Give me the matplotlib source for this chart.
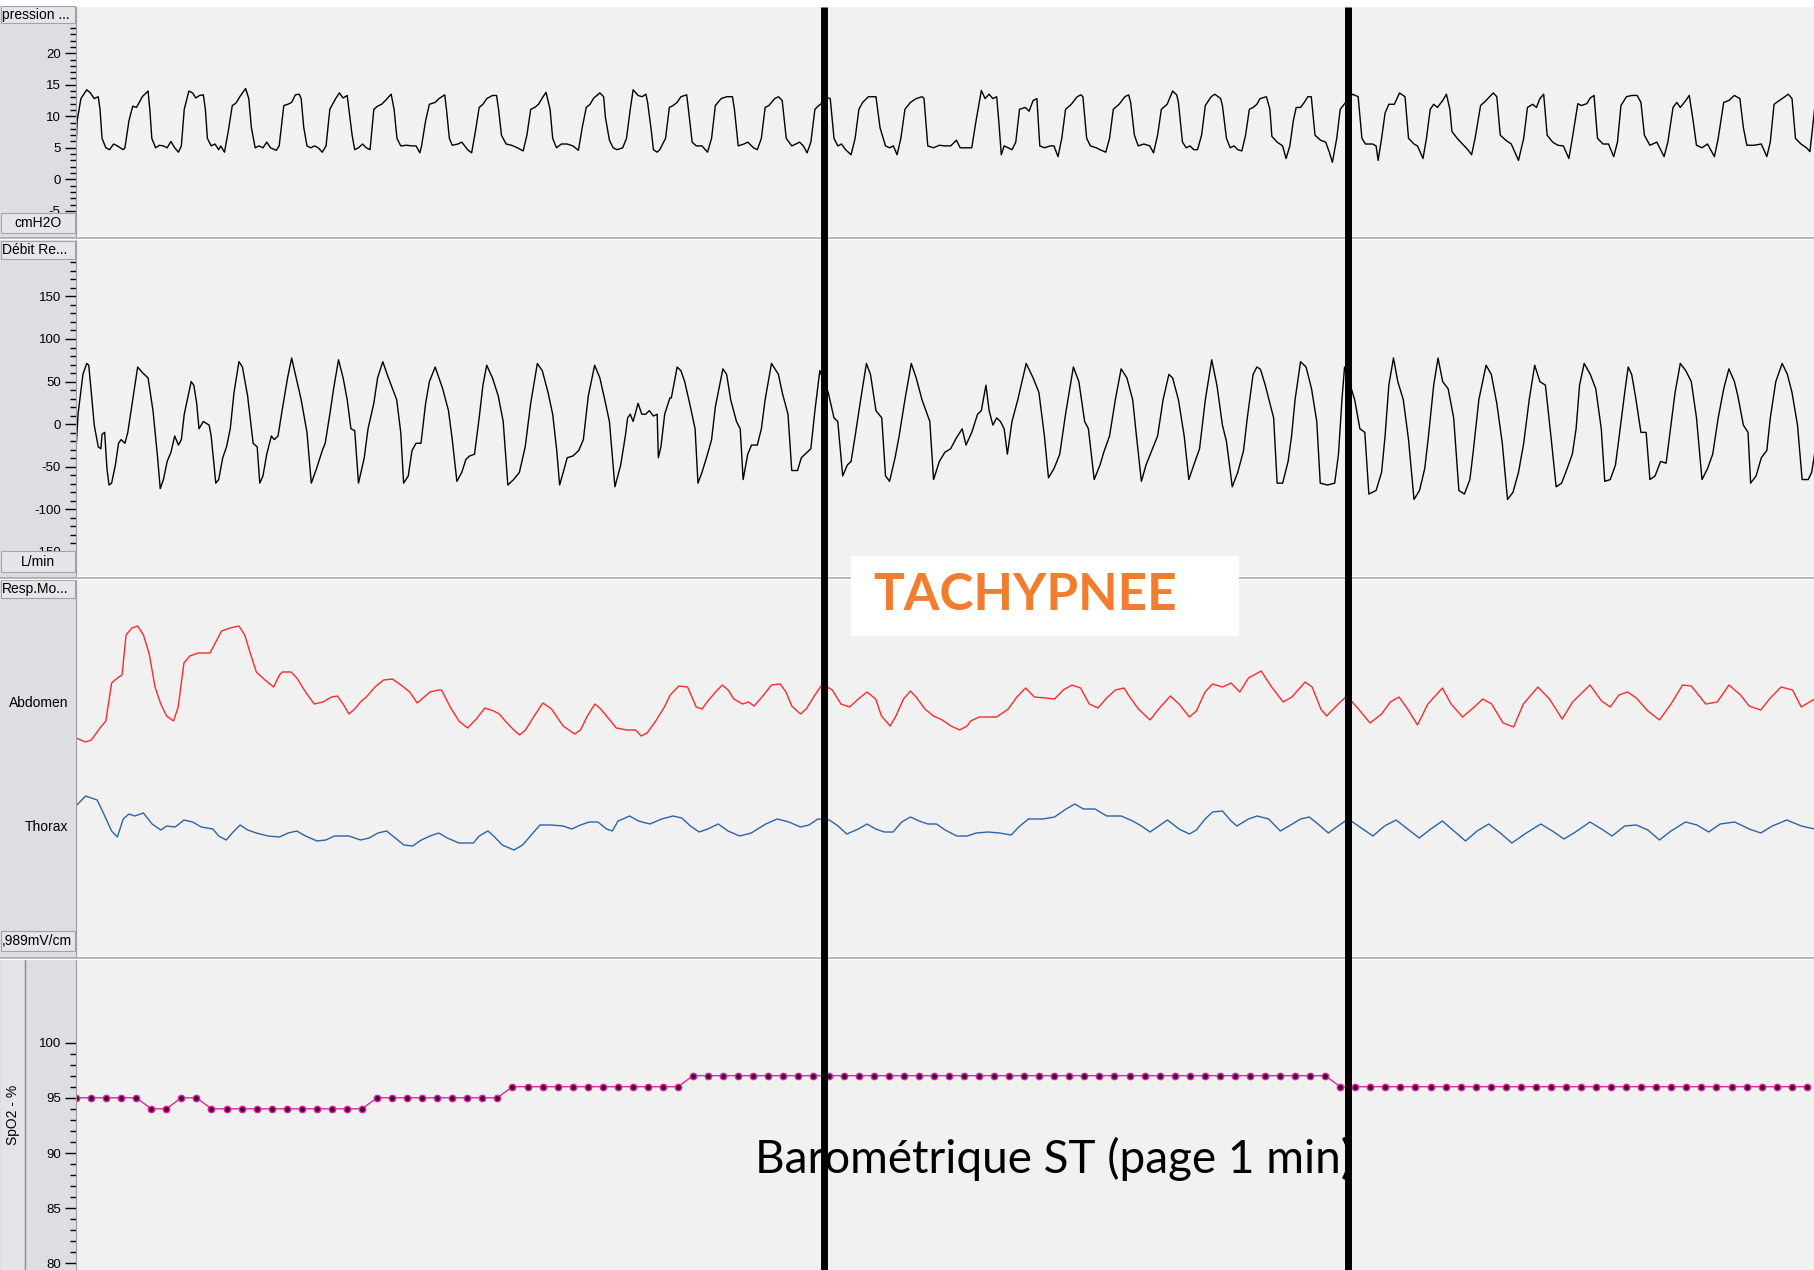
import numpy as np
import matplotlib.pyplot as plt
from matplotlib.patches import Rectangle
from matplotlib.lines import Line2D
from matplotlib.ticker import FixedLocator, MultipleLocator, NullLocator

plt.rcParams['axes.unicode_minus'] = False

W, H = 1814, 1270

# ---- data (time in s, one page = 60 s) ----
pressure_pts = [
    (0.0, 5.0), (0.04, 9.3), (0.17, 12.8), (0.37, 14.2), (0.50, 13.7), (0.63, 12.8), (0.77, 13.1), (0.83, 11.1),
    (0.90, 6.5), (1.03, 5.0), (1.16, 4.7), (1.30, 5.6), (1.43, 5.3), (1.63, 4.7), (1.69, 5.0), (1.83, 9.3),
    (1.96, 11.6), (2.09, 11.4), (2.29, 13.1), (2.49, 14.0), (2.55, 11.1), (2.62, 6.5), (2.75, 5.0), (2.88, 5.4),
    (3.02, 5.3), (3.15, 5.0), (3.28, 6.0), (3.41, 5.0), (3.54, 4.3), (3.64, 5.3), (3.74, 11.1), (3.90, 14.0),
    (4.03, 13.7), (4.14, 12.9), (4.27, 13.3), (4.40, 13.4), (4.47, 11.1), (4.54, 6.5), (4.67, 5.3), (4.80, 5.6),
    (4.93, 4.7), (5.00, 5.3), (5.13, 4.3), (5.26, 7.6), (5.40, 11.7), (5.53, 12.1), (5.66, 13.1), (5.86, 14.4),
    (5.97, 12.8), (6.06, 8.2), (6.19, 5.0), (6.32, 5.3), (6.46, 5.0), (6.59, 5.9), (6.72, 5.0), (6.92, 4.6),
    (7.02, 5.3), (7.18, 11.7), (7.32, 11.9), (7.45, 12.2), (7.58, 13.4), (7.71, 13.5), (7.78, 12.8), (7.87, 8.2),
    (7.98, 5.3), (8.11, 5.0), (8.24, 5.3), (8.37, 5.0), (8.51, 4.3), (8.64, 5.3), (8.77, 11.1), (8.97, 12.8),
    (9.10, 13.7), (9.23, 12.9), (9.37, 13.3), (9.43, 11.1), (9.54, 7.0), (9.63, 4.7), (9.76, 5.0), (9.90, 5.6),
    (10.03, 5.0), (10.16, 4.7), (10.29, 11.1), (10.42, 11.6), (10.56, 11.9), (10.69, 12.5), (10.89, 13.5),
    (10.99, 11.1), (11.09, 6.5), (11.22, 5.3), (11.42, 5.4), (11.61, 5.3), (11.75, 5.3), (11.88, 4.2), (11.94, 5.3),
    (12.08, 9.3), (12.21, 11.9), (12.41, 12.2), (12.54, 12.8), (12.74, 13.4), (12.80, 11.1), (12.90, 6.5),
    (13.00, 5.4), (13.20, 5.6), (13.33, 5.9), (13.53, 4.7), (13.67, 4.2), (13.80, 7.6), (13.93, 11.4), (14.06, 11.9),
    (14.19, 12.8), (14.39, 13.3), (14.53, 13.3), (14.60, 11.1), (14.70, 7.0), (14.86, 5.6), (15.05, 5.4),
    (15.25, 5.0), (15.45, 4.5), (15.58, 7.0), (15.71, 11.1), (15.85, 11.4), (15.98, 11.9), (16.11, 12.9),
    (16.24, 13.8), (16.38, 11.1), (16.47, 6.5), (16.60, 5.0), (16.77, 5.6), (16.97, 5.6), (17.17, 5.3), (17.36, 4.6),
    (17.49, 8.2), (17.63, 11.4), (17.76, 11.9), (17.89, 12.9), (18.10, 13.7), (18.23, 13.1), (18.29, 9.9),
    (18.43, 6.2), (18.56, 5.0), (18.69, 4.7), (18.89, 5.0), (19.02, 6.5), (19.15, 11.1), (19.25, 14.2), (19.42, 13.3),
    (19.56, 13.1), (19.69, 13.5), (19.75, 12.2), (19.88, 7.6), (19.95, 4.7), (20.08, 4.3),
    (20.17, 4.7), (20.37, 6.5), (20.50, 11.4), (20.63, 11.7), (20.77, 12.2), (20.90, 13.1), (21.10, 13.4),
    (21.16, 11.1), (21.29, 5.9), (21.43, 5.3), (21.63, 5.3), (21.82, 4.3), (21.96, 6.5), (22.09, 11.7), (22.29, 12.8),
    (22.48, 13.1), (22.68, 13.1), (22.75, 11.1), (22.88, 5.3), (23.08, 5.6), (23.21, 5.9), (23.41, 5.0), (23.54, 4.7),
    (23.68, 6.5), (23.81, 11.4), (23.94, 11.7), (24.14, 12.8), (24.27, 13.1), (24.40, 12.5), (24.54, 6.5),
    (24.73, 5.3), (24.87, 5.6), (25.00, 5.9), (25.13, 5.3), (25.26, 4.2), (25.39, 5.9), (25.53, 11.1), (25.66, 11.7),
    (25.73, 11.9), (25.86, 13.1), (26.06, 12.8), (26.19, 6.5), (26.32, 5.3), (26.45, 5.6), (26.59, 4.7), (26.78, 3.9),
    (26.92, 6.5), (27.05, 11.1), (27.18, 12.2), (27.38, 13.1), (27.58, 13.1), (27.64, 13.1), (27.78, 8.2),
    (27.97, 5.3), (28.11, 5.0), (28.24, 5.3), (28.37, 3.9), (28.50, 6.5), (28.64, 11.1), (28.83, 12.2), (29.03, 12.8),
    (29.23, 13.1), (29.30, 12.8), (29.43, 5.3), (29.63, 5.0), (29.83, 5.4), (30.02, 5.3), (30.22, 5.3), (30.42, 6.2),
    (30.55, 5.0), (30.75, 5.0), (30.95, 5.0), (31.08, 8.8), (31.28, 14.1), (31.41, 12.8), (31.55, 13.5),
    (31.68, 12.8), (31.81, 13.1), (31.88, 9.4), (31.97, 3.9), (32.07, 5.3), (32.21, 5.0), (32.34, 4.7), (32.47, 5.9),
    (32.60, 11.1), (32.80, 11.4), (32.93, 10.8), (33.07, 12.5), (33.20, 12.8), (33.30, 5.3), (33.46, 5.0),
    (33.66, 5.3), (33.79, 5.3), (33.93, 3.6), (34.06, 6.5), (34.19, 11.1), (34.39, 11.9), (34.59, 13.1),
    (34.72, 13.4), (34.79, 13.1), (34.92, 6.5), (35.05, 5.3), (35.25, 5.0), (35.38, 4.7), (35.58, 4.3), (35.71, 6.5),
    (35.84, 11.1), (36.04, 11.9), (36.24, 13.1), (36.37, 13.4), (36.44, 12.2), (36.57, 7.0), (36.70, 5.3),
    (36.90, 5.6), (37.10, 5.3), (37.23, 4.2), (37.37, 7.0), (37.50, 11.1), (37.70, 11.9), (37.89, 14.0),
    (38.03, 13.4), (38.09, 12.2), (38.23, 5.9), (38.36, 5.0), (38.49, 5.3), (38.62, 4.7), (38.75, 4.7), (38.89, 7.0),
    (39.02, 11.7), (39.22, 13.1), (39.35, 13.5), (39.55, 12.8), (39.61, 11.7), (39.75, 6.5), (39.88, 5.0),
    (40.01, 5.3), (40.14, 4.7), (40.28, 4.5), (40.41, 7.0), (40.54, 11.1), (40.67, 11.4), (40.80, 11.9),
    (40.91, 12.8),
    (41.13, 13.1), (41.25, 11.1), (41.32, 6.8), (41.50, 5.9), (41.69, 5.3), (41.81, 3.3), (41.94, 5.3),
    (42.06, 9.3), (42.16, 11.4), (42.31, 11.4), (42.44, 12.2), (42.56, 13.1), (42.68, 13.1), (42.81, 7.0),
    (43.00, 6.2), (43.18, 5.9), (43.31, 4.2), (43.41, 2.7), (43.56, 6.5), (43.68, 11.1), (43.87, 12.2),
    (44.11, 13.5), (44.30, 13.1), (44.43, 6.5), (44.55, 5.6), (44.80, 5.6), (44.92, 5.3), (44.99, 3.0),
    (45.11, 6.5), (45.23, 10.5), (45.36, 11.9), (45.55, 11.9), (45.73, 13.7), (45.92, 13.1), (46.04, 6.5),
    (46.23, 5.6), (46.35, 5.3), (46.54, 3.3), (46.66, 6.5), (46.79, 11.1), (46.91, 11.9), (47.04, 11.4),
    (47.22, 12.5), (47.35, 13.5), (47.47, 11.1), (47.54, 7.6), (47.72, 6.5), (47.97, 5.3), (48.09, 4.7),
    (48.22, 3.9), (48.34, 6.5), (48.53, 11.7), (48.72, 12.5), (48.84, 13.1), (48.97, 13.7), (49.09, 13.1),
    (49.21, 7.0), (49.40, 6.2), (49.59, 5.6), (49.84, 3.0), (50.02, 6.5), (50.15, 11.4), (50.33, 11.9),
    (50.46, 11.4), (50.58, 12.8), (50.71, 13.5), (50.83, 7.0), (51.02, 5.9), (51.20, 5.4), (51.39, 5.3),
    (51.58, 3.3), (51.70, 6.5), (51.89, 12.0), (52.01, 11.7), (52.20, 12.0), (52.32, 12.9), (52.45, 13.3),
    (52.57, 6.5), (52.76, 5.6), (52.95, 5.6), (53.13, 3.6), (53.26, 5.9), (53.38, 11.7), (53.57, 13.1),
    (53.75, 13.3), (53.94, 13.3), (54.07, 12.2), (54.19, 7.0), (54.38, 5.4), (54.62, 5.9), (54.87, 3.6),
    (55.00, 5.9), (55.18, 11.4), (55.31, 12.2), (55.43, 11.4), (55.62, 12.5), (55.74, 13.3), (55.87, 9.4),
    (55.99, 5.4), (56.18, 5.0), (56.37, 5.6), (56.61, 3.6), (56.74, 6.5), (56.93, 12.2), (57.11, 12.5),
    (57.30, 13.3), (57.49, 12.8), (57.61, 8.2), (57.73, 5.4), (57.98, 5.4), (58.23, 5.6), (58.42, 3.6),
    (58.54, 5.9), (58.67, 11.9), (58.85, 12.5), (58.98, 12.9), (59.16, 13.5), (59.29, 12.8), (59.41, 6.5),
    (59.60, 5.6), (59.79, 5.0), (59.91, 4.4), (60.07, 11.1),
]

flow_pts = [
    (0.0, -30.9), (0.07, 11.7), (0.24, 58.5), (0.37, 71.3), (0.44, 69.2), (0.54, 33.0), (0.63, -1.1),
    (0.77, -26.7), (0.86, -28.8), (0.90, -11.8), (0.99, -9.6), (1.07, -52.2), (1.14, -71.4), (1.23, -69.2),
    (1.36, -48.0), (1.47, -22.4), (1.56, -18.1), (1.69, -22.4), (1.79, -9.6), (1.96, 28.7), (2.13, 67.1),
    (2.29, 60.7), (2.49, 54.3), (2.66, 15.9), (2.82, -39.4), (2.91, -75.6), (3.02, -65.0), (3.15, -43.7),
    (3.28, -33.0), (3.41, -13.9), (3.54, -24.5), (3.64, -18.1), (3.74, 11.7), (3.98, 50.0), (4.07, 45.8),
    (4.17, 24.5), (4.25, -5.4), (4.40, 3.2), (4.60, -1.1), (4.67, -13.9), (4.83, -69.2), (4.93, -65.0),
    (5.07, -39.4), (5.20, -26.7), (5.33, -5.4), (5.46, 37.2), (5.63, 73.4), (5.75, 67.1), (5.93, 33.0),
    (6.12, -22.4), (6.26, -26.7), (6.35, -69.2), (6.46, -60.7), (6.59, -35.2), (6.75, -13.9), (6.85, -18.1),
    (6.98, -13.9), (7.12, 15.9), (7.31, 54.3), (7.45, 77.7), (7.58, 58.5), (7.78, 28.7), (7.98, -9.6),
    (8.13, -69.2), (8.31, -52.2), (8.51, -30.9), (8.61, -22.4), (8.77, 11.7), (8.90, 41.5), (9.07, 75.6),
    (9.23, 54.3), (9.37, 28.7), (9.50, -5.4), (9.63, -7.5), (9.76, -69.2), (9.96, -39.4), (10.09, -5.4),
    (10.29, 24.5), (10.42, 54.3), (10.60, 73.4), (10.75, 58.5), (10.89, 45.8), (11.08, 28.7), (11.22, -9.6),
    (11.32, -69.2), (11.48, -60.7), (11.61, -30.9), (11.75, -22.4), (11.92, -22.4), (12.08, 24.5), (12.21, 50.0),
    (12.41, 67.1), (12.67, 41.5), (12.87, 15.9), (13.00, -18.1), (13.16, -67.1), (13.33, -56.5), (13.47, -41.5),
    (13.60, -37.3), (13.77, -35.2), (13.93, 7.4), (14.06, 45.8), (14.19, 69.2), (14.39, 54.3), (14.59, 33.0),
    (14.76, 3.2), (14.92, -71.4), (15.12, -65.0), (15.32, -56.5), (15.52, -26.7), (15.71, 24.5), (15.94, 71.3),
    (16.11, 62.8), (16.31, 37.2), (16.47, 11.7), (16.61, -30.9), (16.71, -71.4), (16.87, -52.2), (16.97, -39.4),
    (17.17, -37.3), (17.37, -30.9), (17.53, -18.1), (17.70, 33.0), (17.92, 69.2), (18.10, 54.3), (18.27, 28.7),
    (18.43, 3.2), (18.62, -73.5), (18.82, -48.0), (18.98, -13.9), (19.06, 7.4), (19.15, 11.7), (19.25, 3.2),
    (19.42, 24.5), (19.55, 11.7), (19.68, 11.7), (19.81, 15.9), (19.95, 9.6), (20.08, 11.7), (20.12, -39.4),
    (20.21, -26.7), (20.34, 11.7), (20.52, 30.9),
    (20.57, 30.9), (20.77, 67.1), (20.90, 62.8), (21.03, 50.0), (21.23, 20.2), (21.39, -5.4), (21.49, -69.2),
    (21.63, -56.5), (21.82, -35.2), (21.96, -18.1), (22.09, 20.2), (22.35, 64.9), (22.48, 58.5), (22.62, 28.7),
    (22.82, 3.2), (22.95, -5.4), (23.05, -65.0), (23.21, -35.2), (23.34, -24.5), (23.54, -24.5), (23.68, -5.4),
    (23.81, 28.7), (24.03, 71.3), (24.27, 58.5), (24.40, 37.2), (24.60, 11.7), (24.73, -54.4), (24.93, -54.4),
    (25.06, -39.4), (25.26, -33.0), (25.39, -28.8), (25.53, 15.9), (25.70, 62.8), (25.99, 37.2), (26.19, 7.4),
    (26.32, 3.2), (26.49, -60.7), (26.65, -48.0), (26.78, -43.7), (26.92, -13.9), (27.11, 28.7), (27.31, 71.3),
    (27.45, 58.5), (27.64, 15.9), (27.84, 7.4), (27.97, -60.7), (28.11, -67.1), (28.30, -39.4), (28.44, -13.9),
    (28.64, 28.7), (28.86, 71.3), (29.03, 54.3), (29.23, 28.7), (29.50, 3.2), (29.63, -65.0), (29.83, -43.7),
    (30.02, -33.0), (30.22, -28.8), (30.42, -16.0), (30.62, -5.4), (30.75, -24.5), (30.95, -9.6), (31.15, 11.7),
    (31.28, 15.9), (31.44, 45.8), (31.55, 15.9), (31.68, -1.1), (31.81, 7.4), (31.94, 3.2), (32.07, -5.4),
    (32.18, -35.2), (32.34, 3.2), (32.54, 28.7), (32.83, 71.3), (33.07, 54.3), (33.27, 37.2), (33.46, -13.9),
    (33.60, -62.9), (33.79, -52.2), (33.99, -35.2), (34.19, 11.7), (34.46, 67.1), (34.65, 50.0), (34.85, 3.2),
    (34.98, -5.4), (35.18, -65.0), (35.38, -48.0), (35.51, -33.0), (35.71, -13.9), (35.91, 28.7), (36.11, 64.9),
    (36.31, 54.3), (36.51, 28.7), (36.64, -13.9), (36.81, -67.1), (36.97, -48.0), (37.17, -30.9), (37.37, -13.9),
    (37.56, 28.7), (37.76, 58.5), (37.89, 54.3), (38.09, 28.7), (38.29, -13.9), (38.45, -65.0), (38.62, -48.0),
    (38.82, -28.8), (39.02, 28.7), (39.24, 75.6), (39.42, 45.8), (39.61, -1.1), (39.75, -20.3), (39.95, -73.5),
    (40.14, -56.5), (40.34, -30.9), (40.47, 7.4), (40.67, 58.5), (40.80, 67.1), (40.91, 64.9),
    (40.94, 62.8), (41.09, 45.8), (41.25, 24.5), (41.38, 7.4), (41.50, -69.2), (41.69, -69.2), (41.88, -43.7),
    (42.00, -13.9), (42.12, 28.7), (42.31, 73.4), (42.50, 67.1), (42.69, 41.5), (42.87, 3.2), (42.99, -69.2),
    (43.24, -71.4), (43.49, -69.2), (43.62, -35.2), (43.74, 28.7), (43.83, 67.1), (43.99, 50.0), (44.18, 28.7),
    (44.36, -5.4), (44.53, -9.6), (44.67, -82.0), (44.92, -77.8), (45.11, -56.5), (45.23, -13.9), (45.36, 45.8),
    (45.52, 77.7), (45.67, 50.0), (45.86, 28.7), (46.04, -18.1), (46.23, -88.4), (46.42, -77.8), (46.60, -52.2),
    (46.73, -13.9), (46.91, 45.8), (47.06, 77.7), (47.22, 50.0), (47.41, 41.5), (47.60, 7.4), (47.78, -77.8),
    (47.97, -82.0), (48.16, -65.0), (48.28, -30.9), (48.47, 28.7), (48.72, 69.2), (48.90, 58.5), (49.09, 24.5),
    (49.28, -22.4), (49.46, -88.4), (49.65, -79.9), (49.84, -56.5), (50.02, -22.4), (50.21, 28.7), (50.40, 69.2),
    (50.58, 50.0), (50.77, 45.8), (50.96, -13.9), (51.14, -73.5), (51.33, -69.2), (51.52, -52.2), (51.70, -35.2),
    (51.83, -5.4), (51.95, 45.8), (52.11, 71.3), (52.32, 58.5), (52.51, 41.5), (52.70, -5.4), (52.82, -67.1),
    (53.01, -65.0), (53.19, -48.0), (53.32, -13.9), (53.51, 37.2), (53.63, 67.1), (53.75, 58.5), (53.88, 33.0),
    (54.07, -9.6), (54.25, -9.6), (54.38, -65.0), (54.56, -60.7), (54.75, -43.7), (54.94, -45.8), (55.06, -13.9),
    (55.25, 37.2), (55.43, 71.3), (55.62, 62.8), (55.81, 50.0), (55.99, 7.4), (56.18, -65.0), (56.37, -52.2),
    (56.55, -35.2), (56.74, 7.4), (56.93, 41.5), (57.11, 64.9), (57.30, 50.0), (57.42, 33.0), (57.61, -1.1),
    (57.77, -9.6), (57.86, -69.2), (58.05, -60.7), (58.23, -39.4), (58.42, -30.9), (58.54, 7.4), (58.73, 50.0),
    (58.95, 71.3), (59.13, 58.5), (59.29, 37.2), (59.48, -1.1), (59.64, -65.0), (59.85, -65.0), (59.97, -56.5),
    (60.07, -35.2),
]

# belts, arbitrary units (1 unit ~ 1 mm of trace)
abdomen_pts = [
    (0.0, -3.6), (0.33, -4.0), (0.53, -3.8), (0.83, -2.6), (1.03, -1.9), (1.23, 1.9), (1.43, 2.4), (1.59, 2.7),
    (1.73, 6.7), (1.93, 7.4), (2.13, 7.6), (2.33, 6.7), (2.53, 4.8), (2.73, 1.5), (2.93, -0.2), (3.13, -1.4),
    (3.37, -1.9), (3.53, -0.5), (3.73, 3.9), (3.93, 4.6), (4.23, 4.9), (4.63, 4.9), (4.83, 6.0), (5.03, 7.1),
    (5.33, 7.4), (5.63, 7.6), (5.83, 6.7), (6.03, 4.8), (6.23, 3.0), (6.53, 2.2), (6.83, 1.5), (7.03, 2.7),
    (7.13, 3.0), (7.43, 3.0), (7.63, 2.4), (7.93, 1.0), (8.23, -0.2), (8.53, 0.0), (8.83, 0.5), (9.03, 0.6),
    (9.23, -0.2), (9.43, -1.2), (9.63, -0.7), (9.83, 0.0), (10.03, 0.5), (10.33, 1.5), (10.63, 2.2), (10.93, 2.3),
    (11.23, 1.7), (11.53, 1.0), (11.79, -0.1), (12.03, 0.5), (12.23, 1.0), (12.53, 1.2), (12.63, 1.2),
    (12.93, -0.5), (13.23, -1.9), (13.53, -2.6), (13.83, -1.7), (14.13, -0.6), (14.43, -0.9), (14.63, -1.2),
    (14.83, -1.9), (15.13, -2.8), (15.33, -3.3), (15.53, -2.8), (15.83, -1.4), (16.13, -0.1), (16.43, -0.7),
    (16.83, -2.4), (17.23, -3.2), (17.43, -2.8), (17.67, -1.4), (17.93, -0.2), (18.13, -0.7), (18.33, -1.4),
    (18.67, -2.6), (19.03, -2.8), (19.33, -2.8), (19.53, -3.4), (19.73, -3.1), (20.03, -1.9), (20.33, -0.5),
    (20.53, 0.7), (20.83, 1.6), (21.13, 1.5), (21.43, -0.5), (21.63, -0.7), (21.83, 0.1), (22.13, 1.1),
    (22.33, 1.7), (22.53, 1.2), (22.73, 0.3), (23.03, -0.2), (23.23, 0.0), (23.43, -0.4), (23.73, 0.6),
    (24.03, 1.7), (24.33, 1.8), (24.53, 1.0), (24.73, -0.4), (25.03, -1.2), (25.23, -0.7), (25.53, 0.7),
    (25.79, 1.8), (26.13, 1.2), (26.43, -0.2), (26.73, -0.5), (27.03, 0.3), (27.33, 1.0), (27.63, 0.3),
    (27.83, -1.4), (28.13, -2.4), (28.33, -1.4), (28.59, 0.3), (28.83, 1.1), (29.03, 0.5), (29.33, -0.7),
    (29.63, -1.4), (29.93, -1.8), (30.23, -2.4), (30.53, -2.8), (30.79, -2.4),
    (30.91, -1.9), (31.21, -1.5), (31.81, -1.5), (32.21, -0.7), (32.51, 0.5), (32.81, 1.4), (33.11, 0.5),
    (33.51, 0.4), (33.81, 0.3), (34.11, 1.2), (34.41, 1.7), (34.71, 1.4), (35.01, -0.2), (35.31, -0.6),
    (35.61, 0.4), (35.91, 1.2), (36.21, 1.4), (36.41, 0.5), (36.71, -0.7), (37.11, -1.8), (37.41, -0.7),
    (37.81, 0.6), (38.11, -0.2), (38.47, -1.5), (38.71, -0.9), (39.01, 1.0), (39.27, 1.8), (39.61, 1.5),
    (39.91, 1.9), (40.21, 1.0), (40.51, 2.4), (40.95, 3.1), (41.31, 1.5), (41.71, 0.0), (42.01, 0.5),
    (42.47, 2.0), (42.71, 1.5), (43.01, -0.7), (43.21, -1.4), (43.61, -0.2), (43.91, 0.6), (44.31, -0.7),
    (44.71, -2.1), (45.11, -1.2), (45.41, 0.0), (45.71, 0.5), (46.01, -0.7), (46.35, -2.3), (46.71, -0.2),
    (47.21, 1.4), (47.51, -0.2), (47.91, -1.5), (48.31, -0.5), (48.61, 0.3), (48.91, -0.2), (49.31, -2.1),
    (49.67, -2.5), (50.01, -0.2), (50.51, 1.5), (50.91, 0.3), (51.35, -1.7), (51.71, 0.0), (52.31, 1.7),
    (52.71, 0.1), (53.01, -0.5), (53.31, 0.7), (53.61, 1.0), (53.91, 0.4), (54.31, -0.9), (54.71, -1.8),
    (55.11, -0.2), (55.51, 1.7), (55.81, 1.6), (56.31, -0.2), (56.71, 0.0), (57.11, 1.7), (57.51, 0.7),
    (57.81, -0.4), (58.21, -0.8), (58.51, 0.3), (58.91, 1.5), (59.31, 1.2), (59.61, -0.5), (60.07, 0.3),
]

thorax_pts = [
    (0.0, 2.1), (0.33, 3.1), (0.73, 2.7), (0.93, 1.5), (1.23, -0.4), (1.43, -1.0), (1.63, 0.8), (1.83, 1.3),
    (2.03, 1.1), (2.33, 1.4), (2.63, 0.3), (2.93, -0.3), (3.13, 0.1), (3.43, 0.0), (3.73, 0.7), (4.03, 0.5),
    (4.33, 0.0), (4.73, -0.2), (4.93, -0.9), (5.19, -1.3), (5.43, -0.5), (5.67, 0.2), (5.93, -0.3), (6.23, -0.6),
    (6.63, -0.9), (7.03, -1.0), (7.33, -0.6), (7.63, -0.4), (7.93, -0.9), (8.33, -1.4), (8.63, -1.3),
    (8.93, -0.9), (9.43, -0.9), (9.83, -1.3), (10.13, -1.1), (10.43, -0.6), (10.73, -0.4), (11.03, -1.1),
    (11.33, -1.8), (11.63, -1.9), (11.93, -1.3), (12.23, -0.9), (12.53, -0.6), (12.83, -1.1), (13.23, -1.6),
    (13.73, -1.6), (13.93, -0.9), (14.23, -0.4), (14.43, -0.9), (14.73, -1.8), (15.13, -2.3), (15.43, -1.8),
    (15.73, -0.8), (16.03, 0.2), (16.43, 0.2), (16.83, 0.1), (17.13, -0.2), (17.43, 0.2), (17.73, 0.5),
    (18.03, 0.5), (18.33, -0.2), (18.53, -0.4), (18.73, 0.6), (19.13, 1.1), (19.43, 0.6), (19.83, 0.3),
    (20.23, 0.8), (20.63, 1.1), (20.93, 0.9), (21.23, 0.1), (21.53, -0.5), (21.83, -0.2), (22.19, 0.3),
    (22.53, -0.4), (22.93, -0.9), (23.33, -0.6), (23.83, 0.3), (24.23, 0.8), (24.63, 0.5), (25.03, 0.0),
    (25.33, 0.2), (25.63, 0.8), (26.03, 0.7), (26.33, 0.1), (26.63, -0.7), (27.03, -0.2), (27.33, 0.3),
    (27.63, -0.2), (27.93, -0.5), (28.23, -0.5), (28.53, 0.5), (28.83, 1.0), (29.13, 0.6), (29.43, 0.3),
    (29.73, 0.3), (30.03, -0.3), (30.43, -0.9), (30.79, -0.9),
    (31.11, -0.6), (31.51, -0.5), (31.91, -0.6), (32.31, -0.8), (32.61, 0.1), (32.91, 0.8), (33.41, 0.8),
    (33.81, 1.0), (34.21, 1.8), (34.51, 2.3), (34.81, 1.8), (35.21, 1.8), (35.61, 1.1), (36.11, 1.1),
    (36.51, 0.6), (36.81, 0.1), (37.11, -0.5), (37.41, 0.1), (37.71, 0.7), (38.11, -0.2), (38.47, -0.7),
    (38.71, -0.3), (39.01, 0.8), (39.27, 1.5), (39.61, 1.6), (39.91, 0.6), (40.11, 0.1), (40.51, 0.8),
    (40.81, 1.1), (41.21, 0.8), (41.61, -0.4), (41.91, 0.1), (42.31, 0.8), (42.61, 1.0), (42.91, 0.3),
    (43.27, -0.6), (43.61, 0.1), (43.95, 0.8), (44.31, 0.1), (44.81, -0.9), (45.21, 0.1), (45.61, 0.7),
    (46.01, -0.2), (46.41, -1.1), (46.81, -0.2), (47.21, 0.6), (47.61, -0.4), (48.01, -1.4), (48.41, -0.4),
    (48.81, 0.3), (49.21, -0.6), (49.61, -1.6), (50.11, -0.6), (50.61, 0.3), (51.01, -0.4), (51.41, -1.2),
    (51.81, -0.5), (52.31, 0.5), (52.71, -0.2), (53.07, -0.9), (53.51, 0.1), (53.91, 0.2), (54.31, -0.3),
    (54.71, -1.3), (55.11, -0.4), (55.61, 0.5), (56.01, 0.2), (56.41, -0.5), (56.81, 0.3), (57.31, 0.5),
    (57.81, -0.2), (58.21, -0.6), (58.61, 0.1), (59.11, 0.7), (59.61, 0.1), (60.07, -0.2),
]

# SpO2 (%), one sample every 0.52 s
spo2_dt = 0.52
spo2_values = [
    95, 95, 95, 95, 95, 94, 94, 95, 95,
    94, 94, 94, 94, 94, 94, 94, 94, 94, 94, 94,
    95, 95, 95, 95, 95, 95, 95, 95, 95,
    96, 96, 96, 96, 96, 96, 96, 96, 96, 96, 96, 96,
    97, 97, 97, 97, 97, 97, 97, 97, 97, 97, 97, 97, 97, 97, 97, 97, 97, 97, 97, 97,
    97, 97, 97, 97, 97, 97, 97, 97, 97, 97, 97, 97, 97, 97, 97, 97, 97, 97, 97, 97,
    97, 97, 97,
    96, 96, 96, 96, 96, 96, 96, 96, 96, 96, 96, 96, 96, 96, 96, 96,
    96, 96, 96, 96, 96, 96, 96, 96, 96, 96, 96, 96, 96, 96, 96, 96,
]

press_ticks = [-5, 0, 5, 10, 15, 20]
flow_ticks = [-150, -100, -50, 0, 50, 100, 150]
spo2_ticks = [80, 85, 90, 95, 100]

# ---- layout (pixel units of the 1814x1270 canvas) ----
PLOT_BG = '#f1f1f1'
COL_BG = '#dedee2'
BOX_BG = '#e6e6ea'
SMALL_FONT = 'Liberation Sans'
TICK_SIZE = 9.5
LABEL_SIZE = 10
ABD_OFF, THX_OFF = 12.5, 0.0


def frac(x0, y0, x1, y1):
    return [x0 / W, 1 - y1 / H, (x1 - x0) / W, (y1 - y0) / H]


def fx(x):
    return x / W


def fy(y):
    return 1 - y / H


fig = plt.figure(figsize=(W / 100, H / 100), dpi=100)
fig.patch.set_facecolor('white')

# left label column
fig.add_artist(Rectangle((0, fy(1270)), fx(76), fy(6) - fy(1270), transform=fig.transFigure,
                         facecolor=COL_BG, edgecolor='none', zorder=-2))


def trace_axes(y0, y1, ylim):
    ax = fig.add_axes(frac(76, y0, W, y1))
    ax.set_facecolor(PLOT_BG)
    ax.set_xlim(0, 60.05)
    ax.set_ylim(*ylim)
    for s in ('top', 'right', 'bottom'):
        ax.spines[s].set_visible(False)
    ax.spines['left'].set_color('#9c9c9c')
    ax.spines['left'].set_linewidth(0.8)
    ax.xaxis.set_major_locator(NullLocator())
    ax.tick_params(axis='y', which='major', direction='out', length=8, width=1.0, pad=3,
                   labelsize=TICK_SIZE, colors='black')
    ax.tick_params(axis='y', which='minor', direction='out', length=4.3, width=1.0, colors='black')
    return ax


# panel 1 : pressure
ax1 = trace_axes(7, 236, (-8.99, 27.33))
ax1.yaxis.set_major_locator(FixedLocator(press_ticks))
ax1.yaxis.set_minor_locator(MultipleLocator(1))
pt, pv = np.array(pressure_pts).T
ax1.plot(pt, pv, color='black', lw=1.0)

# panel 2 : flow
ax2 = trace_axes(240, 576, (-178.2, 216.2))
ax2.yaxis.set_major_locator(FixedLocator(flow_ticks))
ax2.yaxis.set_minor_locator(MultipleLocator(10))
ft, fv = np.array(flow_pts).T
ax2.plot(ft, fv, color='black', lw=1.0)

# panel 3 : belts
ax3 = trace_axes(579, 956, (-12.9, 24.8))
ax3.yaxis.set_major_locator(NullLocator())
at, av = np.array(abdomen_pts).T
tt, tv = np.array(thorax_pts).T
ax3.plot(at, av + ABD_OFF, color='#ff2a2a', lw=1.0)
ax3.plot(tt, tv + THX_OFF, color='#2d64a8', lw=1.0)

# panel 4 : SpO2
ax4 = trace_axes(959, 1270, (79.41, 107.56))
ax4.yaxis.set_major_locator(FixedLocator(spo2_ticks))
ax4.yaxis.set_minor_locator(FixedLocator(range(80, 101)))
st = np.arange(len(spo2_values)) * spo2_dt
ax4.plot(st, spo2_values, color='#e0279f', lw=1.0, marker='o', ms=4.6,
         mfc='#4a0838', mec='#e0279f', mew=1.0)

for ax in (ax1, ax2, ax4):
    for lab in ax.get_yticklabels():
        lab.set_family(SMALL_FONT)

# SpO2 narrow label strip
fig.add_artist(Rectangle((fx(1), fy(1270)), fx(24) - fx(1), fy(960) - fy(1270), transform=fig.transFigure,
                         facecolor='#e4e4e8', edgecolor='none', zorder=1))
fig.add_artist(Line2D([fx(24.5)] * 2, [fy(960), fy(1270)], transform=fig.transFigure,
                      color='#8c8c8c', lw=1.0, zorder=1))
fig.text(fx(12.5), fy(1115), 'SpO2 - %', rotation=90, ha='center', va='center',
         fontsize=LABEL_SIZE, family=SMALL_FONT, zorder=2)


def label_box(y0, y1, text, ha='center'):
    fig.add_artist(Rectangle((fx(0.5), fy(y1)), fx(75) - fx(0.5), fy(y0) - fy(y1),
                             transform=fig.transFigure, facecolor=BOX_BG,
                             edgecolor='#a4a4a8', lw=0.8, zorder=1))
    x = fx(38) if ha == 'center' else fx(1.5)
    fig.text(x, fy((y0 + y1) / 2), text, ha=ha, va='center', fontsize=LABEL_SIZE,
             family=SMALL_FONT, zorder=2)


label_box(6, 23, 'pression ...', ha='left')
label_box(213, 233, 'cmH2O')
label_box(241, 259, 'Débit Re...', ha='left')
label_box(551, 572, 'L/min')
label_box(580, 598, 'Resp.Mo...', ha='left')
label_box(931, 951, ',989mV/cm', ha='left')

fig.text(fx(68), fy(703), 'Abdomen', ha='right', va='center', fontsize=LABEL_SIZE,
         family=SMALL_FONT, zorder=2)
fig.text(fx(68), fy(827), 'Thorax', ha='right', va='center', fontsize=LABEL_SIZE,
         family=SMALL_FONT, zorder=2)

# panel separators
for ysep in (237.5, 577.5, 957.5):
    fig.add_artist(Line2D([0, 1], [fy(ysep)] * 2, transform=fig.transFigure,
                          color='#a6a6a6', lw=1.2, zorder=3))
    fig.add_artist(Line2D([0, 1], [fy(ysep + 1.5)] * 2, transform=fig.transFigure,
                          color='white', lw=0.9, zorder=3))

# annotations
fig.add_artist(Rectangle((fx(851), fy(636)), fx(1239) - fx(851), fy(556) - fy(636),
                         transform=fig.transFigure, facecolor='white', edgecolor='none', zorder=5))
fig.text(fx(873), fy(596), 'TACHYPNEE', ha='left', va='center', fontsize=37,
         fontweight='bold', family='Lato', color='#f07d30', zorder=6)
fig.text(fx(1054), fy(1173), 'Barométrique ST (page 1 min)', ha='center', va='baseline',
         fontsize=33, family='Lato', color='black', zorder=6)

# page markers
for xm in (823.5, 1348.0):
    fig.add_artist(Line2D([fx(xm)] * 2, [fy(7), 0], transform=fig.transFigure,
                          color='black', lw=5.0, solid_capstyle='butt', zorder=10))

fig.savefig('out.png', dpi=100)
